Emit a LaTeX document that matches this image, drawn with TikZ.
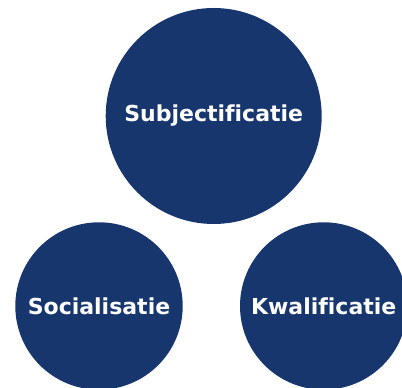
\documentclass[tikz,border=0pt]{standalone}
\usepackage{fontspec}
\setsansfont[Ligatures=NoCommon]{DejaVu Sans}
\usetikzlibrary{positioning}
\definecolor{navyblue}{RGB}{23,54,110}
\tikzset{
    aim/.style={shape=circle, fill=navyblue, inner sep=0pt, text=white,
        font=\sffamily\bfseries\fontsize{22}{22}\selectfont},
    bigaim/.style={aim, minimum size=216pt},
    smallaim/.style={aim, minimum size=167.4pt}
}

\begin{document}
\begin{tikzpicture}[x=1pt, y=1pt]
    \useasboundingbox (0,0) rectangle (402,388);
    \clip (0,0) rectangle (402,388);
    \path (213.7,272) node [bigaim] (subject) {Subjectificatie}
        (99,82) node [smallaim] (social) {Socialisatie}
        (323.7,82) node [smallaim] (kwali) {Kwalificatie};
\end{tikzpicture}
\end{document}
